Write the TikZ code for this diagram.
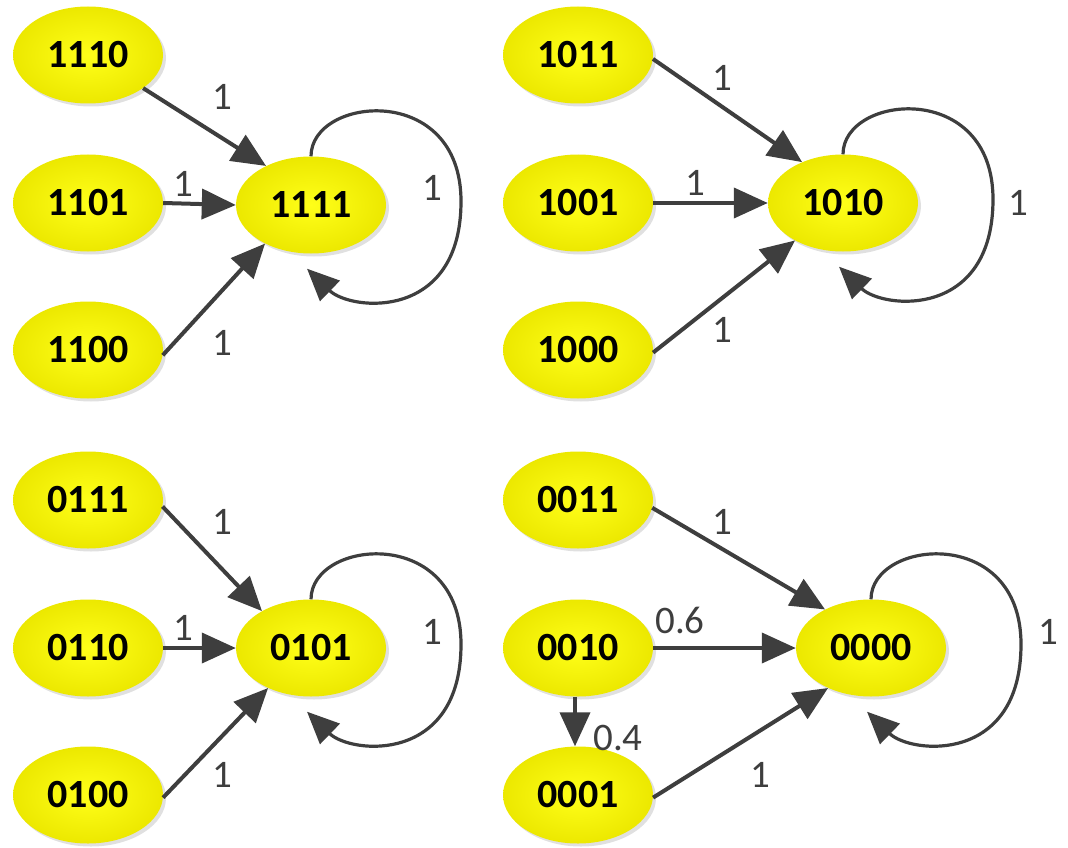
\documentclass[tikz,border=0pt]{standalone}
\usepackage{fontspec}
\setmainfont{Carlito}
\usetikzlibrary{arrows.meta,shapes.geometric,shadows,calc}
\definecolor{nodein}{RGB}{255,255,25}
\definecolor{nodeout}{RGB}{236,232,0}
\definecolor{edgec}{RGB}{62,62,62}
\newcommand\myselfloop[1]{%
  \draw[loopedge] (#1.north) .. controls ($(#1.north)+(0,-60)$) and ($(#1.north)+(150,-75)$) .. ($(#1.north)+(150,45)$)
    .. controls ($(#1.north)+(150,165)$) and ($(#1.north)+(40,155)$) .. ($(#1.south)+(-4,15)$);}
\begin{document}
\begin{tikzpicture}[x=1pt,y=-1pt,
  state/.style={ellipse, minimum width=150pt, minimum height=97pt, inner sep=0pt,
    inner color=nodein, outer color=nodeout,
    drop shadow={shadow xshift=3pt, shadow yshift=-3pt, fill=black!30, opacity=0.4},
    font=\fontsize{40}{42}\selectfont\bfseries},
  edgeline/.style={draw=edgec, line width=4pt, -{Triangle[length=34pt,width=30pt]}},
  loopedge/.style={draw=edgec, line width=3.2pt, -{Triangle[length=32pt,width=28pt]}},
  lbl/.style={text=edgec, font=\fontsize{39}{41}\selectfont, inner sep=0pt}]
\useasboundingbox (0,0) rectangle (1068,848);
% ---- top left
\node[state] (n1110) at (88,55) {1110};
\node[state] (n1101) at (88,203) {1101};
\node[state] (n1100) at (88,350) {1100};
\node[state] (n1111) at (311,205) {1111};
% ---- top right
\node[state] (n1011) at (578,55) {1011};
\node[state] (n1001) at (578,203) {1001};
\node[state] (n1000) at (578,350) {1000};
\node[state] (n1010) at (843,203) {1010};
% ---- bottom left
\node[state] (n0111) at (88,500) {0111};
\node[state] (n0110) at (88,648) {0110};
\node[state] (n0100) at (88,795) {0100};
\node[state] (n0101) at (311,648) {0101};
% ---- bottom right
\node[state] (n0011) at (578,500) {0011};
\node[state] (n0010) at (578,648) {0010};
\node[state] (n0001) at (578,795) {0001};
\node[state] (n0000) at (871,648) {0000};

% edges top left
\draw[edgeline] (n1110.-31) -- (n1111.139);
\draw[edgeline] (n1101.east) -- (n1111.west);
\draw[edgeline] (n1100.-4) -- (n1111.220);
\myselfloop{n1111}
\node[lbl] (l1) at (222,97) {1};
\node[lbl] (l2) at (183,184) {1};
\node[lbl] (l3) at (222,343) {1};
\node[lbl] (l4) at (432,188) {1};
% edges top right
\draw[edgeline] (n1011.-3) -- (n1010.135);
\draw[edgeline] (n1001.east) -- (n1010.west);
\draw[edgeline] (n1000.-2) -- (n1010.218);
\myselfloop{n1010}
\node[lbl] (l5) at (722,78) {1};
\node[lbl] (l6) at (695,183) {1};
\node[lbl] (l7) at (722,330) {1};
\node[lbl] (l8) at (1018,203) {1};
% edges bottom left
\draw[edgeline] (n0111.-5) -- (n0101.143);
\draw[edgeline] (n0110.east) -- (n0101.west);
\draw[edgeline] (n0100.-2) -- (n0101.223);
\myselfloop{n0101}
\node[lbl] (l9) at (222,522) {1};
\node[lbl] (l10) at (183,628) {1};
\node[lbl] (l11) at (222,775) {1};
\node[lbl] (l12) at (432,632) {1};
% edges bottom right
\draw[edgeline] (n0011.-6) -- (n0000.140);
\draw[edgeline] (n0010.east) -- (n0000.west);
\draw[edgeline] ($(n0010.south)+(-3,0)$) -- ($(n0001.north)+(-3,0)$);
\draw[edgeline] (n0001.-2) -- (n0000.223);
\myselfloop{n0000}
\node[lbl] (l13) at (722,522) {1};
\node[lbl] (l14) at (680,620) {0.6};
\node[lbl] (l15) at (618,738) {0.4};
\node[lbl] (l16) at (760,775) {1};
\node[lbl] (l17) at (1048,632) {1};
\end{tikzpicture}
\end{document}
